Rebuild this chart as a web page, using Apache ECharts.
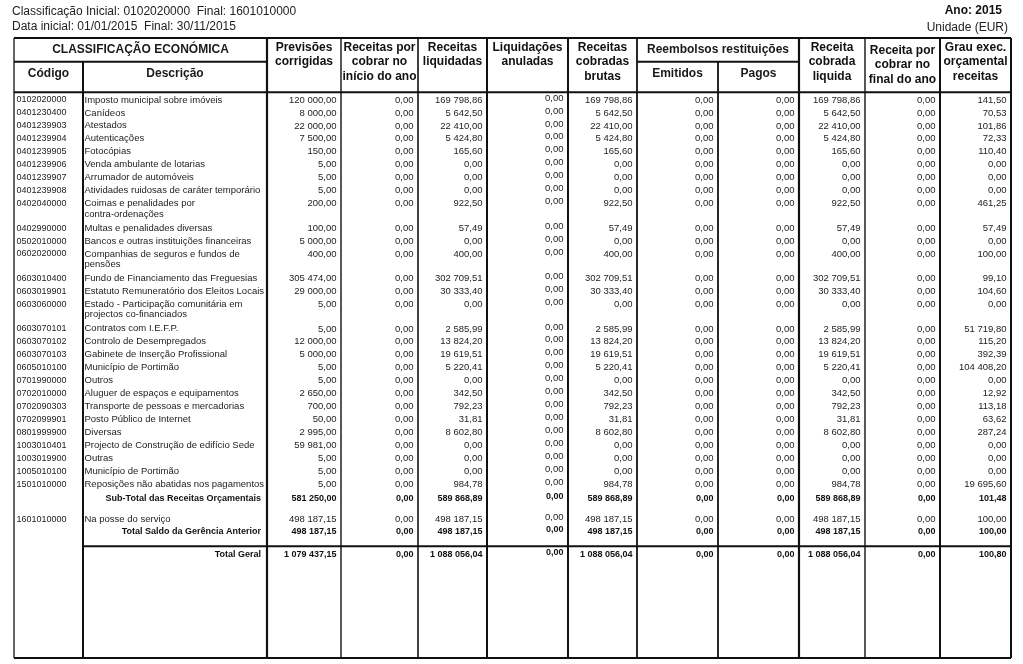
<!DOCTYPE html>
<html><head><meta charset="utf-8">
<script src="https://cdn.jsdelivr.net/npm/echarts@6/dist/echarts.min.js"></script>
<style>html,body{margin:0;padding:0;background:#fff}#c{width:1023px;height:664px}</style>
</head><body><div id="c"></div>
<script>
// ---------------- DATA ----------------
const reportInfo = ['Classificação Inicial: 0102020000  Final: 1601010000', 'Data inicial: 01/01/2015  Final: 30/11/2015'];
const reportYear = 'Ano: 2015';
const reportUnit = 'Unidade (EUR)';

const codes = [
  '0102020000','0401230400','0401239903','0401239904','0401239905','0401239906','0401239907','0401239908',
  '0402040000','0402990000','0502010000','0602020000','0603010400','0603019901','0603060000','0603070101',
  '0603070102','0603070103','0605010100','0701990000','0702010000','0702090303','0702099901','0801999900',
  '1003010401','1003019900','1005010100','1501010000','','1601010000','',''
];
const descriptions = [
  'Imposto municipal sobre imóveis','Canídeos','Atestados','Autenticações','Fotocópias',
  'Venda ambulante de lotarias','Arrumador de automóveis','Atividades ruidosas de caráter temporário',
  'Coimas e penalidades por\ncontra-ordenações','Multas e penalidades diversas',
  'Bancos e outras instituições financeiras','Companhias de seguros e fundos de\npensões',
  'Fundo de Financiamento das Freguesias','Estatuto Remuneratório dos Eleitos Locais',
  'Estado - Participação comunitária em\nprojectos co-financiados','Contratos com I.E.F.P.',
  'Controlo de Desempregados','Gabinete de Inserção Profissional','Município de Portimão','Outros',
  'Aluguer de espaços e equipamentos','Transporte de pessoas e mercadorias','Posto Público de Internet',
  'Diversas','Projecto de Construção de edifício Sede','Outras','Município de Portimão',
  'Reposições não abatidas nos pagamentos','Sub-Total das Receitas Orçamentais',
  'Na posse do serviço','Total Saldo da Gerência Anterior','Total Geral'
];
const previsoesCorrigidas = [120000,8000,22000,7500,150,5,5,5,200,100,5000,400,305474,29000,5,5,12000,5000,5,5,2650,700,50,2995,59981,5,5,5,581250,498187.15,498187.15,1079437.15];
const porCobrarInicio    = [0,0,0,0,0,0,0,0,0,0,0,0,0,0,0,0,0,0,0,0,0,0,0,0,0,0,0,0,0,0,0,0];
const liquidadas         = [169798.86,5642.50,22410,5424.80,165.60,0,0,0,922.50,57.49,0,400,302709.51,30333.40,0,2585.99,13824.20,19619.51,5220.41,0,342.50,792.23,31.81,8602.80,0,0,0,984.78,589868.89,498187.15,498187.15,1088056.04];
const anuladas           = [0,0,0,0,0,0,0,0,0,0,0,0,0,0,0,0,0,0,0,0,0,0,0,0,0,0,0,0,0,0,0,0];
const cobradasBrutas     = [169798.86,5642.50,22410,5424.80,165.60,0,0,0,922.50,57.49,0,400,302709.51,30333.40,0,2585.99,13824.20,19619.51,5220.41,0,342.50,792.23,31.81,8602.80,0,0,0,984.78,589868.89,498187.15,498187.15,1088056.04];
const reembolsosEmitidos = [0,0,0,0,0,0,0,0,0,0,0,0,0,0,0,0,0,0,0,0,0,0,0,0,0,0,0,0,0,0,0,0];
const reembolsosPagos    = [0,0,0,0,0,0,0,0,0,0,0,0,0,0,0,0,0,0,0,0,0,0,0,0,0,0,0,0,0,0,0,0];
const cobradaLiquida     = [169798.86,5642.50,22410,5424.80,165.60,0,0,0,922.50,57.49,0,400,302709.51,30333.40,0,2585.99,13824.20,19619.51,5220.41,0,342.50,792.23,31.81,8602.80,0,0,0,984.78,589868.89,498187.15,498187.15,1088056.04];
const porCobrarFinal     = [0,0,0,0,0,0,0,0,0,0,0,0,0,0,0,0,0,0,0,0,0,0,0,0,0,0,0,0,0,0,0,0];
const grauExecucao       = [141.50,70.53,101.86,72.33,110.40,0,0,0,461.25,57.49,0,100,99.10,104.60,0,51719.80,115.20,392.39,104408.20,0,12.92,113.18,63.62,287.24,0,0,0,19695.60,101.48,100,100,100.80];

const headerGroups = ['CLASSIFICAÇÃO ECONÓMICA', 'Reembolsos restituições'];
const headerLabels = ['Código','Descrição','Previsões\ncorrigidas','Receitas por\ncobrar no\ninício do ano',
  'Receitas\nliquidadas','Liquidações\nanuladas','Receitas\ncobradas\nbrutas','Emitidos','Pagos',
  'Receita\ncobrada\nliquida','Receita por\ncobrar no\nfinal do ano','Grau exec.\norçamental\nreceitas'];

// ---------------- LAYOUT ----------------
const valueColumns = [previsoesCorrigidas, porCobrarInicio, liquidadas, anuladas, cobradasBrutas,
  reembolsosEmitidos, reembolsosPagos, cobradaLiquida, porCobrarFinal, grauExecucao];
const colEdges = [14, 83, 267, 341, 418, 487, 568, 637, 718, 799, 865, 940, 1011];
const edgeWidths = [1.3, 2, 2.2, 1.4, 1.6, 2, 2, 1.8, 1.8, 2.2, 1.4, 2, 2];
const TOP = 38, MID = 61.7, HEAD_BOTTOM = 92.3, BOTTOM = 658;
const FONT = "'Liberation Sans', Arial, sans-serif";
const extraGap = {28: 1.55, 29: 7.75, 30: -1.25, 31: 10.35};
const rowY = [];
(function(){
  let y = 100;
  for (let i = 0; i < codes.length; i++) {
    if (i > 0) y += (descriptions[i-1].indexOf('\n') >= 0 ? 24.5 : 12.95) + (extraGap[i] || 0);
    rowY.push(y);
  }
})();

function fmt(v) {
  const s = Math.abs(v).toFixed(2).split('.');
  const int = s[0].replace(/\B(?=(\d{3})+(?!\d))/g, ' ');
  return (v < 0 ? '-' : '') + int + ',' + s[1];
}

const chart = echarts.init(document.getElementById('c'), null, {renderer: 'canvas'});

function line(api, x1, y1, x2, y2, w) {
  const a = api.coord([x1, y1]), b = api.coord([x2, y2]);
  return {type: 'line', shape: {x1: a[0], y1: a[1], x2: b[0], y2: b[1]}, style: {stroke: '#111', lineWidth: w}};
}
function text(api, x, y, s, align, font, vAlign, lh, fill) {
  const p = api.coord([x, y]);
  return {type: 'text', x: p[0], y: p[1], style: {text: s, align: align, verticalAlign: vAlign || 'middle',
    font: font, fill: fill || '#1a1a1a', lineHeight: lh || 14.5}};
}

function renderFrame(params, api) {
  const ch = [];
  ch.push(text(api, 12, 11.5, reportInfo[0], 'left', '12px ' + FONT, 'middle', 14, '#222'));
  ch.push(text(api, 12, 27, reportInfo[1], 'left', '12px ' + FONT, 'middle', 14, '#222'));
  ch.push(text(api, 1002, 11, reportYear, 'right', 'bold 12px ' + FONT, 'middle', 14, '#111'));
  ch.push(text(api, 1008, 28, reportUnit, 'right', '12px ' + FONT, 'middle', 14, '#222'));
  ch.push(line(api, colEdges[0], TOP, colEdges[12], TOP, 2));
  ch.push(line(api, colEdges[0], MID, colEdges[2], MID, 2));
  ch.push(line(api, colEdges[7], MID, colEdges[9], MID, 2));
  ch.push(line(api, colEdges[0], HEAD_BOTTOM, colEdges[12], HEAD_BOTTOM, 2));
  ch.push(line(api, colEdges[0], BOTTOM, colEdges[12], BOTTOM, 2));
  const totalLineY = rowY[rowY.length - 1] - 8.3;
  ch.push(line(api, colEdges[1], totalLineY, colEdges[12], totalLineY, 2));
  colEdges.forEach((x, k) => {
    const y0 = (k === 1 || k === 8) ? MID : TOP;
    ch.push(line(api, x, y0, x, BOTTOM, edgeWidths[k]));
  });
  const hb = 'bold 12px ' + FONT;
  ch.push(text(api, (colEdges[0] + colEdges[2]) / 2, 50, headerGroups[0], 'center', hb));
  ch.push(text(api, (colEdges[7] + colEdges[9]) / 2, 50, headerGroups[1], 'center', hb));
  ch.push(text(api, (colEdges[0] + colEdges[1]) / 2, 74, headerLabels[0], 'center', hb));
  ch.push(text(api, (colEdges[1] + colEdges[2]) / 2, 74, headerLabels[1], 'center', hb));
  ch.push(text(api, (colEdges[7] + colEdges[8]) / 2, 74, headerLabels[7], 'center', hb));
  ch.push(text(api, (colEdges[8] + colEdges[9]) / 2, 74, headerLabels[8], 'center', hb));
  [2, 3, 4, 5, 6, 9, 10, 11].forEach(k => {
    const x0 = colEdges[k], x1 = colEdges[k + 1];
    const topY = k === 10 ? 43 : 40;
    ch.push(text(api, (x0 + x1) / 2, topY, headerLabels[k], 'center', hb, 'top', 14.6, '#111'));
  });
  return {type: 'group', children: ch};
}

function renderRow(params, api) {
  const i = api.value(1);
  const y = rowY[i];
  const isTotal = codes[i] === '';
  const ch = [];
  const numFont = isTotal ? 'bold 9px ' + FONT : '9.5px ' + FONT;
  if (!isTotal) {
    ch.push(text(api, 16.5, y, codes[i], 'left', '9px ' + FONT, 'middle', 10, '#222'));
    ch.push(text(api, 84.5, y - 5.3, descriptions[i], 'left', '9.5px ' + FONT, 'top', 10.5, '#222'));
  } else {
    ch.push(text(api, colEdges[2] - 6, y, descriptions[i], 'right', 'bold 9px ' + FONT, 'middle', 10, '#111'));
  }
  valueColumns.forEach((col, k) => {
    const xr = colEdges[k + 3] - 4.5;
    const dy = k === 3 ? -2 : 0;
    ch.push(text(api, xr, y + dy, fmt(col[i]), 'right', numFont, 'middle', 10, isTotal ? '#111' : '#222'));
  });
  return {type: 'group', children: ch};
}

chart.setOption({
  animation: false,
  backgroundColor: '#ffffff',
  grid: {left: 0, right: 0, top: 0, bottom: 0},
  xAxis: {type: 'value', min: 0, max: 1023, show: false},
  yAxis: {type: 'value', min: 0, max: 664, inverse: true, show: false},
  series: [
    {type: 'custom', renderItem: renderFrame, data: [[0, 0]], silent: true},
    {type: 'custom', renderItem: renderRow, data: codes.map((c, i) => [0, i]), silent: true}
  ]
});
</script>
</body></html>
